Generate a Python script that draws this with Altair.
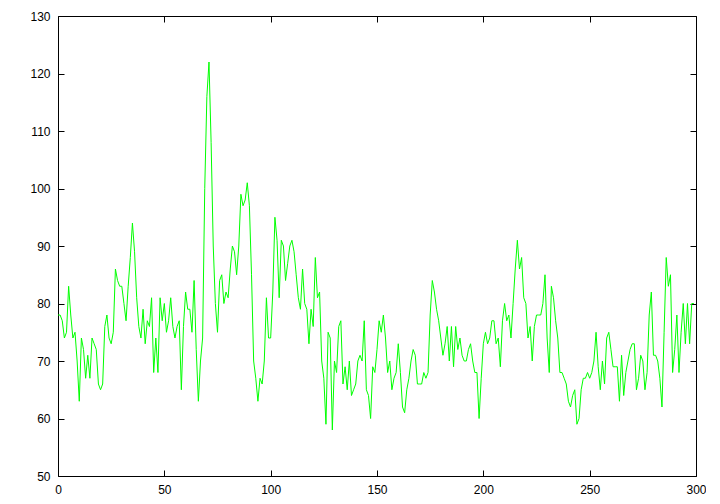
import altair as alt
import pandas as pd

values = [
    78, 78, 77, 74, 75, 83, 78, 74, 75, 70,
    63, 74, 72, 67, 71, 67, 74, 73, 72, 66,
    65, 66, 76, 78, 74, 73, 75, 86, 84, 83,
    83, 80, 77, 83, 88, 94, 89, 81, 76, 74,
    79, 73, 77, 76, 81, 68, 74, 68, 81, 77,
    80, 75, 77, 81, 76, 74, 76, 77, 65, 76,
    82, 79, 79, 75, 84, 72, 63, 70, 74, 100,
    116, 122, 108, 90, 80, 75, 84, 85, 80, 82,
    81, 86, 90, 89, 85, 90, 99, 97, 98, 101,
    97, 85, 70, 67, 63, 67, 66, 70, 81, 74,
    74, 82, 95, 91, 81, 91, 90, 84, 87, 90,
    91, 89, 85, 81, 79, 86, 80, 79, 73, 79,
    76, 88, 81, 82, 70, 67, 59, 75, 74, 58,
    70, 68, 76, 77, 66, 69, 65, 70, 64, 65,
    66, 70, 71, 70, 77, 65, 64, 60, 69, 68,
    72, 77, 75, 78, 74, 68, 70, 65, 67, 68,
    73, 68, 62, 61, 65, 67, 70, 72, 71, 66,
    66, 66, 68, 67, 68, 78, 84, 82, 79, 77,
    74, 71, 73, 76, 70, 76, 69, 76, 72, 74,
    71, 70, 70, 72, 73, 70, 68, 68, 60, 67,
    73, 75, 73, 74, 77, 77, 73, 74, 69, 77,
    80, 77, 78, 74, 80, 86, 91, 86, 88, 81,
    80, 74, 76, 70, 76, 78, 78, 78, 80, 85,
    74, 68, 83, 81, 77, 74, 68, 68, 67, 66,
    63, 62, 64, 65, 59, 60, 65, 67, 67, 68,
    67, 68, 70, 75, 69, 65, 70, 66, 74, 75,
    72, 69, 69, 69, 63, 71, 64, 68, 70, 72,
    73, 73, 65, 67, 71, 70, 65, 68, 78, 82,
    71, 71, 70, 67, 62, 75, 88, 83, 85, 68,
    72, 78, 68, 75, 80, 73, 80, 73, 80, 80,
]
xs = list(range(len(values)))
x_ticks = [0, 50, 100, 150, 200, 250, 300]
y_ticks = [50, 60, 70, 80, 90, 100, 110, 120, 130]

df = pd.DataFrame({"x": xs, "y": values})

font = "Liberation Sans"
ax_common = dict(domain=False, grid=False, tickColor="black", tickSize=6, offset=-6,
                 labelFont=font, labelFontSize=12, labelColor="black", title=None,
                 labelPadding=8, labelFlush=False, labelOverlap=False)

xscale = alt.Scale(domain=[0, 300], nice=False, zero=False)
yscale = alt.Scale(domain=[50, 130], nice=False, zero=False)

main = alt.Chart(df).mark_line(color="#00ff00", strokeWidth=1).encode(
    x=alt.X("x:Q", scale=xscale, axis=alt.Axis(values=x_ticks, orient="bottom", **ax_common)),
    y=alt.Y("y:Q", scale=yscale, axis=alt.Axis(values=y_ticks, orient="left", **ax_common)),
)

mirror_common = dict(ax_common)
mirror_common["labels"] = False
mirror = alt.Chart(df).mark_line(opacity=0).encode(
    x=alt.X("x:Q", scale=xscale, axis=alt.Axis(values=x_ticks, orient="top", **mirror_common)),
    y=alt.Y("y:Q", scale=yscale, axis=alt.Axis(values=y_ticks, orient="right", **mirror_common)),
)

chart = alt.layer(main, mirror).resolve_axis(x="independent", y="independent").properties(
    width=638, height=460,
    padding={"left": 50, "top": 8, "right": 10, "bottom": 26},
    autosize=alt.AutoSizeParams(type="none"),
    background="white",
).configure_view(stroke="black", strokeWidth=1)

chart.save("out.html", embed_options={"renderer": "svg", "actions": False})
